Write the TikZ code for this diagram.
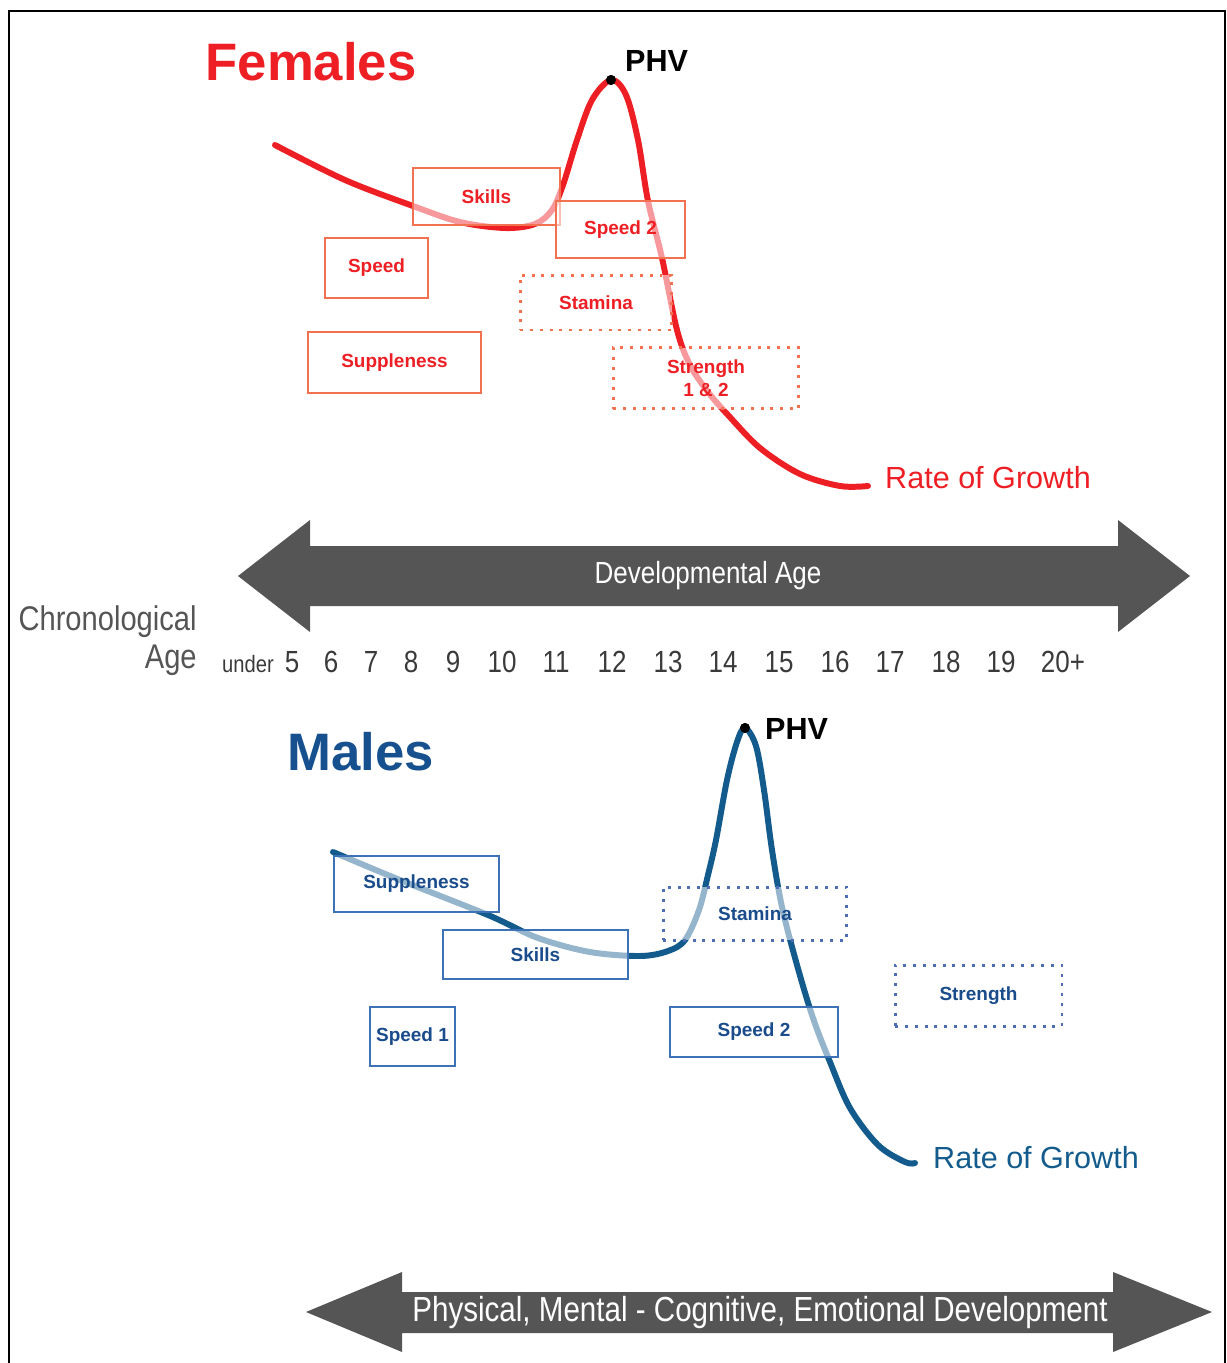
\documentclass[tikz,border=0pt]{standalone}
\usepackage{fontspec}
\setmainfont{Liberation Sans}
\newfontfamily\narrowfont[FakeStretch=0.85]{Liberation Sans}
\usetikzlibrary{positioning}

\definecolor{fred}{HTML}{EE1F24}
\definecolor{fbord}{HTML}{F27150}
\definecolor{mblue}{HTML}{135B8C}
\definecolor{mtitle}{HTML}{16508F}
\definecolor{mtext}{HTML}{1A4C8C}
\definecolor{mbord}{HTML}{3D72B6}
\definecolor{mdot}{HTML}{4E6DB5}
\definecolor{bandgray}{HTML}{555555}
\definecolor{numgray}{HTML}{3A3A3A}

\begin{document}
\begin{tikzpicture}[x=0.02cm, y=-0.02cm,
  fbox/.style={draw=fbord, line width=1.1pt, fill=white, fill opacity=0.55, text opacity=1,
    text=fred, font=\fontsize{10.8}{12}\bfseries\selectfont, align=center, inner sep=0pt},
  fdots/.style={fbox, line width=1.7pt, dash pattern=on 1.7pt off 3.9pt},
  mbox/.style={fbox, draw=mbord, text=mtext},
  mdots/.style={mbox, draw=mdot, line width=1.7pt, dash pattern=on 1.7pt off 3.9pt},
  phvdot/.style={circle, fill=black, inner sep=0pt, minimum size=0.2cm},
  phvlbl/.style={anchor=west, font=\fontsize{17.4}{20}\bfseries\selectfont},
  growth/.style={anchor=west, font=\fontsize{17.4}{20}\selectfont},
  title/.style={font=\fontsize{30}{34}\bfseries\selectfont},
  agenum/.style={anchor=base, text=numgray, font=\narrowfont\fontsize{17.4}{20}\selectfont},
  bandlbl/.style={text=white, font=\narrowfont\fontsize{17.4}{20}\selectfont}
]
\useasboundingbox (0,0) rectangle (1227,1363);

% Frame
\draw[line width=1.2pt] (9,1363) -- (9,11) -- (1225,11) -- (1225,1363);

% ---------------- Females ----------------
\node[title, text=fred] (ftitle) at (311,62) {Females};

\coordinate (fstart) at (275,145);
\coordinate (fend) at (868,486);
\node[phvdot] (fphv) at (611,80) {};

% rate of growth curve
\draw[fred, line width=3.4pt, line cap=round] plot[smooth, tension=0.55] coordinates {
  (fstart) (345,180) (413,206) (460,222) (505,228) (535,224) (552,210) (563,185)
  (577,140) (592,100) (fphv.center) (626,95) (638,140) (648,201) (662,258) (677,330)
  (690,365) (708,392) (728,415) (760,448) (800,474) (840,486) (fend)};

% boxes
\node[fbox, minimum width=2.94cm, minimum height=1.14cm] (fskills) at (486.5,196.5) {Skills};
\node[fbox, minimum width=2.58cm, minimum height=1.14cm] (fspeedb) at (620.5,229.5) {Speed 2};
\node[fbox, minimum width=2.06cm, minimum height=1.20cm] (fspeed) at (376.5,268) {Speed};
\node[fbox, minimum width=3.46cm, minimum height=1.22cm] (fsupple) at (394.5,362.5) {Suppleness};
\node[fdots, minimum width=3.04cm, minimum height=1.10cm] (fstamina) at (596,302.5) {Stamina};
\node[fdots, minimum width=3.72cm, minimum height=1.22cm] (fstrength) at (706,378) {Strength\\[1pt]1 \& 2};

\node[phvdot] at (fphv) {};
\node[phvlbl] (fphvlbl) at (619,61) {PHV};
\node[growth, text=fred] (fgrowth) at (879,478) {Rate of Growth};

% ---------------- Developmental age band ----------------
\fill[bandgray] (238,576) -- (310,520) -- (310,546) -- (1118,546) -- (1118,520) -- (1190,576)
  -- (1118,632) -- (1118,606) -- (310,606) -- (310,632) -- cycle;
\node[bandlbl] (devage) at (708,576) {Developmental Age};

% chronological age scale
\node[anchor=east, inner sep=0pt, text=bandgray, font=\narrowfont\fontsize{19.5}{20}\selectfont] (chrono) at (197,622) {Chronological};
\node[anchor=east, inner sep=0pt, text=bandgray, font=\narrowfont\fontsize{19.5}{20}\selectfont] (agelbl) at (197,660) {Age};
\node[agenum, font=\narrowfont\fontsize{13.5}{15}\selectfont] (under) at (248,672) {under};
\foreach \x/\t [count=\i] in {292/5, 331/6, 371/7, 411/8, 453/9, 502/10, 556/11, 612/12,
  668/13, 723/14, 779/15, 835/16, 890/17, 946/18, 1001/19, 1063/20+} {
  \node[agenum] (age\i) at (\x,672) {\t};
}

% ---------------- Males ----------------
\node[title, text=mtitle] (mtitle) at (361,752) {Males};

\coordinate (mstart) at (333,852);
\coordinate (mend) at (915,1163);
\node[phvdot] (mphv) at (745,728) {};

% rate of growth curve
\draw[mblue, line width=3.4pt, line cap=round] plot[smooth, tension=0.55] coordinates {
  (mstart) (400,880) (488,915) (538,938) (590,952) (640,956) (668,951) (685,940) (699,910)
  (708,875) (716,840) (727,780) (737,742) (mphv.center) (756,746) (764,790) (772,850)
  (782,907) (797,965) (813,1018) (830,1062) (850,1108) (878,1145) (905,1162) (mend)};

% boxes
\node[mbox, minimum width=3.30cm, minimum height=1.12cm] (msupple) at (416.5,884) {Suppleness};
\node[mbox, minimum width=3.70cm, minimum height=0.98cm] (mskills) at (535.5,954.5) {Skills};
\node[mbox, minimum width=1.70cm, minimum height=1.18cm] (mspeed) at (412.5,1036.5) {Speed 1};
\node[mdots, minimum width=3.68cm, minimum height=1.06cm] (mstamina) at (755,913.5) {Stamina};
\node[mbox, minimum width=3.36cm, minimum height=1.00cm] (mspeedb) at (754,1032) {Speed 2};
\node[mdots, minimum width=3.34cm, minimum height=1.22cm] (mstrength) at (978.5,995.5) {Strength};

\node[phvdot] at (mphv) {};
\node[phvlbl] (mphvlbl) at (759,729) {PHV};
\node[growth, text=mblue] (mgrowth) at (927,1158) {Rate of Growth};

% ---------------- Development band ----------------
\fill[bandgray] (306,1312) -- (402,1272) -- (402,1292) -- (1113,1292) -- (1113,1272) -- (1212,1312)
  -- (1113,1352) -- (1113,1333) -- (402,1333) -- (402,1352) -- cycle;
\node[bandlbl, font=\narrowfont\fontsize{19.8}{20}\selectfont] (develop) at (760,1312) {Physical, Mental - Cognitive, Emotional Development};

\end{tikzpicture}
\end{document}
